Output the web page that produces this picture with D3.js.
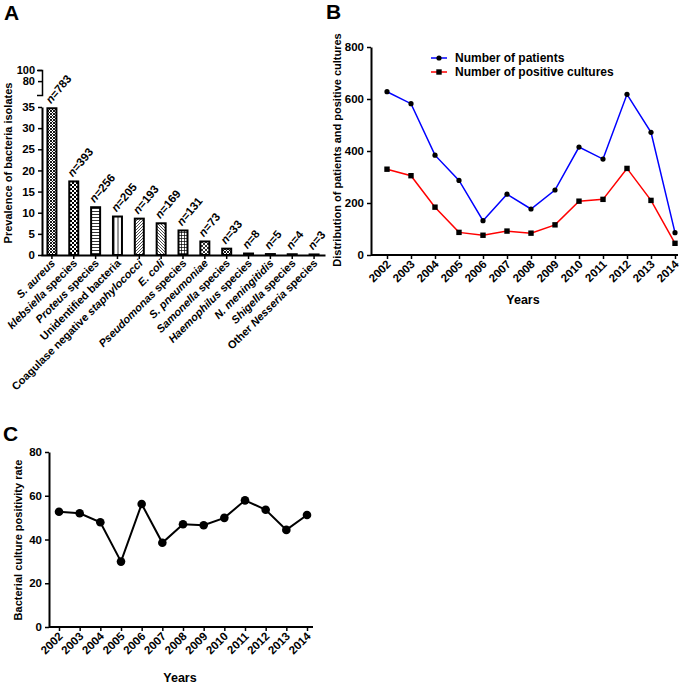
<!DOCTYPE html>
<html><head><meta charset="utf-8">
<script src="https://cdn.jsdelivr.net/npm/d3@7"></script>
<style>
body{margin:0;background:#fff}
svg{font-family:"Liberation Sans",Arial,sans-serif;font-weight:bold}
</style>
</head><body>
<svg id="chart" width="685" height="684"></svg>
<script>
// ---------- DATA ----------
const bacteria = ["S. aureus","klebsiella species","Proteus species","Unidentified bacteria","Coagulase negative staphylococci","E. coli","Pseudomonas species","S. pneumoniae","Samonella species","Haemophilus species","N. meningitidis","Shigella species","Other Nesseria species"];
const italicWords = ["S.","aureus","klebsiella","Proteus","staphylococci","E.","coli","Pseudomonas","pneumoniae","Samonella","Haemophilus","N.","meningitidis","Shigella","Nesseria"];
const prevalence = [34.7,17.4,11.3,9.1,8.6,7.5,5.8,3.2,1.5,0.35,0.22,0.18,0.13];
const isolateCounts = [783,393,256,205,193,169,131,73,33,8,5,4,3];
const prevTicksLow = [0,5,10,15,20,25,30,35];
const prevTicksHigh = [80,100];

const years = ["2002","2003","2004","2005","2006","2007","2008","2009","2010","2011","2012","2013","2014"];
const patients = [628,582,384,287,132,234,177,250,415,369,618,472,86];
const positiveCultures = [330,305,184,87,76,92,84,116,207,214,333,210,45];
const distTicks = [0,200,400,600,800];
const positivityRate = [52.7,52,47.9,29.9,56.2,38.5,47,46.5,49.9,57.9,53.6,44.4,51.2];
const rateTicks = [0,20,40,60,80];

const patternNames = ["p1","p2","p3","p4","p5","p6","p7","p8","p1","p1","p1","p1","p1"];

// ---------- SETUP ----------
const svg = d3.select("#chart");
const defs = svg.append("defs");
function pat(id, w, h, draw){
  const p = defs.append("pattern").attr("id",id).attr("patternUnits","userSpaceOnUse").attr("width",w).attr("height",h);
  p.append("rect").attr("width",w).attr("height",h).attr("fill","#fff");
  draw(p);
}
pat("p1",3,3,p=>{ p.append("path").attr("d","M0,0L3,3M3,0L0,3").attr("stroke","#000").attr("stroke-width",0.9); });
pat("p2",4,4,p=>{ p.append("rect").attr("width",4).attr("height",4).attr("fill","#000");
  p.append("rect").attr("x",0).attr("y",0).attr("width",2).attr("height",2).attr("fill","#fff");
  p.append("rect").attr("x",2).attr("y",2).attr("width",2).attr("height",2).attr("fill","#fff"); });
pat("p3",4,3,p=>{ p.append("path").attr("d","M0,1.5H4").attr("stroke","#000").attr("stroke-width",0.8); });
pat("p4",4,4,p=>{ p.append("path").attr("d","M2,0V4").attr("stroke","#000").attr("stroke-width",0.8); });
pat("p5",3,3,p=>{ p.append("path").attr("d","M0,3L3,0M-1,1L1,-1M2,4L4,2").attr("stroke","#000").attr("stroke-width",0.7); });
pat("p6",3,3,p=>{ p.append("path").attr("d","M0,0L3,3M-1,2L1,4M2,-1L4,1").attr("stroke","#000").attr("stroke-width",0.7); });
pat("p7",3,3,p=>{ p.append("path").attr("d","M0,1.5H3M1.5,0V3").attr("stroke","#000").attr("stroke-width",0.7); });
pat("p8",4,4,p=>{ p.append("path").attr("d","M0,4L4,0M0,0L4,4").attr("stroke","#000").attr("stroke-width",0.8); });

function styleAxis(g){
  g.selectAll(".domain").attr("stroke","#000").attr("stroke-width",2);
  g.selectAll(".tick line").attr("stroke","#000").attr("stroke-width",1.5);
  g.selectAll(".tick text").attr("font-size",11.5).attr("font-weight","bold").attr("fill","#000")
    .attr("font-family","'Liberation Sans',Arial,sans-serif");
}
function panelLetter(t,x,y){
  svg.append("text").attr("x",x).attr("y",y).attr("font-size",21).attr("font-weight","bold").text(t);
}
function yLabel(t,x,y,size){
  svg.append("text").attr("transform",`translate(${x},${y}) rotate(-90)`).attr("text-anchor","middle")
    .attr("dy","0.35em").attr("font-size",size).text(t);
}

// ---------- PANEL A ----------
panelLetter("A",4,20);
const xA = d3.scaleBand().domain(bacteria).range([41,325]).padding(0);
const yA = d3.scaleLinear().domain([0,35]).range([255,107]);
const yAHigh = d3.scaleLinear().domain([55,100]).range([95,70]);
const barW = 9;

svg.selectAll("rect.bar").data(bacteria).join("rect").attr("class","bar")
  .attr("x",d=>xA(d)+xA.bandwidth()/2-barW/2)
  .attr("y",(d,i)=>yA(prevalence[i]))
  .attr("width",barW)
  .attr("height",(d,i)=>yA(0)-yA(prevalence[i]))
  .attr("fill",(d,i)=>`url(#${patternNames[i]})`)
  .attr("stroke","#000").attr("stroke-width",2);

const gAy = svg.append("g").attr("transform","translate(42,0)")
  .call(d3.axisLeft(yA).tickValues(prevTicksLow).tickSize(4).tickSizeOuter(0).tickPadding(3));
styleAxis(gAy);
const gAy2 = svg.append("g").attr("transform","translate(42,0)")
  .call(d3.axisLeft(yAHigh).tickValues(prevTicksHigh).tickSize(4).tickSizeOuter(5).tickPadding(3));
styleAxis(gAy2);
gAy2.select(".domain").attr("stroke-width",1.5);
gAy2.selectAll(".tick text").attr("font-size",11);

const gAx = svg.append("g").attr("transform","translate(0,255)")
  .call(d3.axisBottom(xA).tickSize(4).tickSizeOuter(0).tickFormat(""));
styleAxis(gAx);
gAx.selectAll(".tick").each(function(d){
  const t = d3.select(this).append("text")
    .attr("text-anchor","end").attr("font-size",11).attr("fill","#000")
    .attr("transform","translate(4,9) rotate(-45)");
  const words = d.split(" ");
  words.forEach((w,k)=>{
    t.append("tspan").attr("font-style",italicWords.includes(w)?"italic":"normal")
      .text((k>0?" ":"")+w);
  });
});

// n= labels
svg.selectAll("text.nlab").data(bacteria).join("text").attr("class","nlab")
  .attr("transform",(d,i)=>`translate(${xA(d)+xA.bandwidth()/2-1},${yA(prevalence[i])-4}) rotate(-50)`)
  .attr("font-size",11.5)
  .each(function(d,i){
    const t=d3.select(this);
    t.append("tspan").attr("font-style","italic").text("n");
    t.append("tspan").text("="+isolateCounts[i]);
  });
yLabel("Prevalence of bacteria isolates",8,163,11);

// ---------- PANEL B ----------
panelLetter("B",326,19);
const xB = d3.scalePoint().domain(years).range([387,675]);
const yB = d3.scaleLinear().domain([0,800]).range([255,47]);
const gBy = svg.append("g").attr("transform","translate(371,0)")
  .call(d3.axisLeft(yB).tickValues(distTicks).tickSize(4).tickSizeOuter(0).tickPadding(3));
styleAxis(gBy);
const gBx = svg.append("g").attr("transform","translate(0,255)")
  .call(d3.axisBottom(xB).tickSize(4).tickSizeOuter(0).tickFormat(""));
gBx.select(".domain").attr("d","M371,0H678");
styleAxis(gBx);
gBx.selectAll(".tick").append("text").attr("text-anchor","end").attr("font-size",11.5).attr("fill","#000")
  .attr("transform","translate(4,10) rotate(-45)").text(d=>d);

const lineB = d3.line().x((d,i)=>xB(years[i])).y(d=>yB(d));
svg.append("path").datum(patients).attr("d",lineB).attr("fill","none").attr("stroke","#0000ff").attr("stroke-width",1.5);
svg.append("path").datum(positiveCultures).attr("d",lineB).attr("fill","none").attr("stroke","#ff0000").attr("stroke-width",1.5);
svg.selectAll("circle.pt").data(patients).join("circle").attr("class","pt")
  .attr("cx",(d,i)=>xB(years[i])).attr("cy",d=>yB(d)).attr("r",2.6).attr("fill","#000");
svg.selectAll("rect.ps").data(positiveCultures).join("rect").attr("class","ps")
  .attr("x",(d,i)=>xB(years[i])-2.7).attr("y",d=>yB(d)-2.7).attr("width",5.4).attr("height",5.4).attr("fill","#000");

// legend
const legend = [{label:"Number of patients",color:"#0000ff",shape:"circle"},{label:"Number of positive cultures",color:"#ff0000",shape:"square"}];
legend.forEach((l,k)=>{
  const y = 58 + k*14;
  svg.append("line").attr("x1",431).attr("x2",447).attr("y1",y).attr("y2",y).attr("stroke",l.color).attr("stroke-width",1.5);
  if(l.shape==="circle") svg.append("circle").attr("cx",439).attr("cy",y).attr("r",2.6).attr("fill","#000");
  else svg.append("rect").attr("x",436.3).attr("y",y-2.7).attr("width",5.4).attr("height",5.4).attr("fill","#000");
  svg.append("text").attr("x",455).attr("y",y).attr("dy","0.35em").attr("font-size",12).text(l.label);
});
svg.append("text").attr("x",523).attr("y",304).attr("text-anchor","middle").attr("font-size",12.5).text("Years");
yLabel("Distribution of patients and positive cultures",337,150,11);

// ---------- PANEL C ----------
panelLetter("C",3,441);
const xC = d3.scalePoint().domain(years).range([59,307]);
const yC = d3.scaleLinear().domain([0,80]).range([627,452]);
const gCy = svg.append("g").attr("transform","translate(49,0)")
  .call(d3.axisLeft(yC).tickValues(rateTicks).tickSize(4).tickSizeOuter(0).tickPadding(3));
styleAxis(gCy);
const gCx = svg.append("g").attr("transform","translate(0,627)")
  .call(d3.axisBottom(xC).tickSize(4).tickSizeOuter(0).tickFormat(""));
gCx.select(".domain").attr("d","M49,0H313");
styleAxis(gCx);
gCx.selectAll(".tick").append("text").attr("text-anchor","end").attr("font-size",11.5).attr("fill","#000")
  .attr("transform","translate(4,10) rotate(-45)").text(d=>d);
const lineC = d3.line().x((d,i)=>xC(years[i])).y(d=>yC(d));
svg.append("path").datum(positivityRate).attr("d",lineC).attr("fill","none").attr("stroke","#000").attr("stroke-width",2);
svg.selectAll("circle.rt").data(positivityRate).join("circle").attr("class","rt")
  .attr("cx",(d,i)=>xC(years[i])).attr("cy",d=>yC(d)).attr("r",4.3).attr("fill","#000");
svg.append("text").attr("x",180).attr("y",682).attr("text-anchor","middle").attr("font-size",12.5).text("Years");
yLabel("Bacterial culture positivity rate",18,540,11);
</script>
</body></html>
